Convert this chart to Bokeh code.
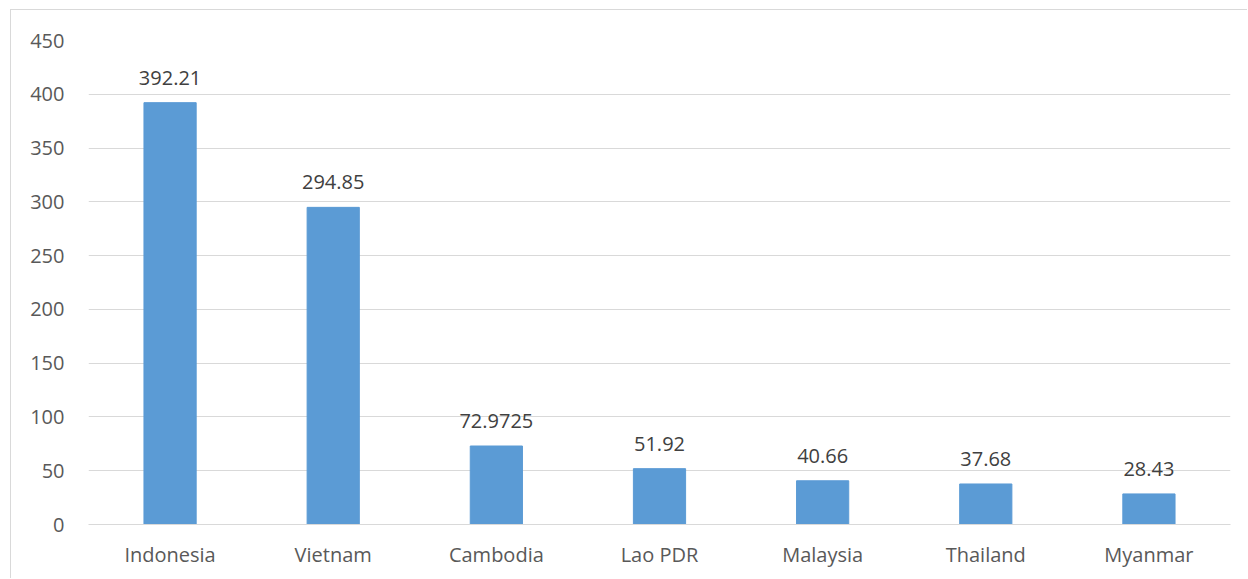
from bokeh.plotting import figure
from bokeh.models import ColumnDataSource, FixedTicker, Range1d
from bokeh.core.properties import value
from bokeh.embed import file_html
from bokeh.resources import INLINE

countries = ["Indonesia", "Vietnam", "Cambodia", "Lao PDR", "Malaysia", "Thailand", "Myanmar"]
values = [392.21, 294.85, 72.9725, 51.92, 40.66, 37.68, 28.43]
labels = ["392.21", "294.85", "72.9725", "51.92", "40.66", "37.68", "28.43"]
y_ticks = [0, 50, 100, 150, 200, 250, 300, 350, 400, 450]

FONT = "Open Sans"
src = ColumnDataSource(dict(x=countries, top=values, label=labels))

p = figure(x_range=countries, y_range=Range1d(0, 450), width=1237, height=569,
           output_backend="svg", toolbar_location=None,
           min_border_left=77, min_border_right=18, min_border_top=30, min_border_bottom=55)
p.styles = {"border-top": "1px solid #d9d9d9", "border-left": "1px solid #d9d9d9",
            "margin-left": "10px", "margin-top": "9px"}
p.outline_line_color = None
p.background_fill_color = "white"
p.border_fill_color = "white"

p.vbar(x="x", top="top", width=0.32, source=src, color="#5B9BD5", line_color="#5B9BD5")
p.text(x="x", y="top", text="label", source=src, text_align="center", text_baseline="alphabetic",
       y_offset=-25, text_font=value(FONT), text_font_size="20px", text_color="#404040")

p.yaxis.ticker = FixedTicker(ticks=y_ticks)
p.yaxis.axis_line_color = None
p.yaxis.major_tick_line_color = None
p.yaxis.minor_tick_line_color = None
p.yaxis.major_label_text_font = FONT
p.yaxis.major_label_text_font_size = "20px"
p.yaxis.major_label_text_color = "#595959"
p.yaxis.major_label_standoff = 18

p.xaxis.axis_line_color = "#d9d9d9"
p.xaxis.major_tick_line_color = None
p.xaxis.minor_tick_line_color = None
p.xaxis.major_label_text_font = FONT
p.xaxis.major_label_text_font_size = "20px"
p.xaxis.major_label_text_color = "#595959"
p.xaxis.major_label_standoff = 10

p.xgrid.grid_line_color = None
p.ygrid.grid_line_color = "#d9d9d9"
p.ygrid.grid_line_width = 1

open("out.html", "w").write(file_html(p, INLINE))
